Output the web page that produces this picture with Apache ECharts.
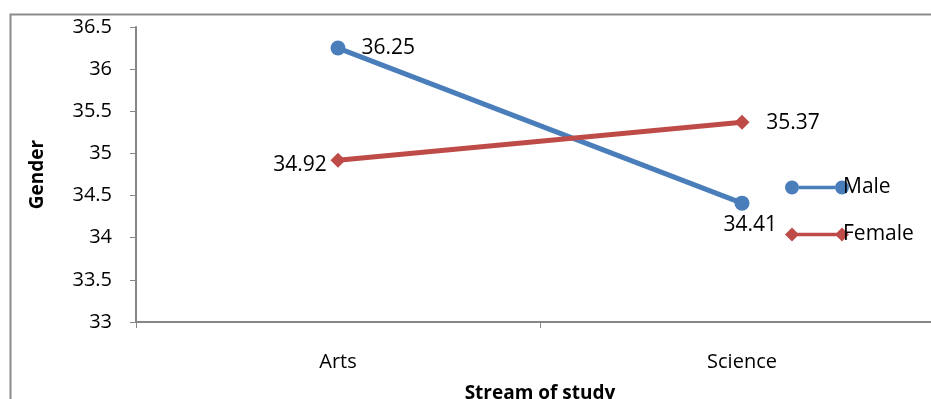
<!DOCTYPE html>
<html>
<head>
<meta charset="utf-8">
<script src="https://cdn.jsdelivr.net/npm/echarts@6/dist/echarts.min.js"></script>
<style>
  html, body { margin: 0; padding: 0; background: #fff; }
  #chart { width: 931px; height: 399px; }
</style>
</head>
<body>
<div id="chart"></div>
<script>
// Mean scores by stream of study, split by gender
var categories = ['Arts', 'Science'];
var maleValues = [36.25, 34.41];
var femaleValues = [34.92, 35.37];
var yTicks = { min: 33, max: 36.5, step: 0.5 };

var FONT = 'Open Sans';
var BLUE = '#4A7EBB';
var RED = '#BE4B48';
var AXIS = '#868686';

// Legend icons: marker - line - marker
var maleIcon = 'path://M0,7A7,7 0 1,1 14,7A7,7 0 1,1 0,7Z M50,7A7,7 0 1,1 64,7A7,7 0 1,1 50,7Z M14,5.2L50,5.2L50,8.8L14,8.8Z';
var femaleIcon = 'path://M0,7L7,0L14,7L7,14Z M50,7L57,0L64,7L57,14Z M12,5.2L52,5.2L52,8.8L12,8.8Z';

var chart = echarts.init(document.getElementById('chart'), null, { renderer: 'canvas' });

chart.setOption({
  animation: false,
  backgroundColor: '#fff',
  textStyle: { fontFamily: FONT },
  graphic: [{
    type: 'rect',
    left: 8, top: 12,
    shape: { width: 1000, height: 500 },
    style: { fill: 'none', stroke: '#8C8C8C', lineWidth: 2 },
    silent: true, z: -1
  }],
  grid: { left: 136, top: 27, width: 808, height: 295, containLabel: false, outerBoundsMode: 'none' },
  legend: {
    orient: 'vertical',
    left: 780, top: 172,
    itemWidth: 64, itemHeight: 14,
    itemGap: 26,
    textStyle: { fontFamily: FONT, fontSize: 21, color: '#000', padding: [0, 0, 0, -11] },
    data: [
      { name: 'Male', icon: maleIcon },
      { name: 'Female', icon: femaleIcon }
    ]
  },
  xAxis: {
    type: 'category',
    data: categories,
    boundaryGap: true,
    name: 'Stream of study',
    nameLocation: 'middle',
    nameGap: 62,
    nameTextStyle: { fontFamily: FONT, fontSize: 19, fontWeight: 'bold', color: '#000' },
    axisLine: { lineStyle: { color: AXIS, width: 2 } },
    axisTick: { show: true, alignWithLabel: false, length: 6, lineStyle: { color: AXIS, width: 1 } },
    axisLabel: { margin: 30, fontFamily: FONT, fontSize: 20, color: '#000' }
  },
  yAxis: {
    type: 'value',
    min: yTicks.min, max: yTicks.max, interval: yTicks.step,
    name: 'Gender',
    nameLocation: 'middle',
    nameGap: 89,
    nameRotate: 90,
    nameTextStyle: { fontFamily: FONT, fontSize: 19, fontWeight: 'bold', color: '#000' },
    axisLine: { show: true, lineStyle: { color: AXIS, width: 2 } },
    axisTick: { show: true, length: 6, lineStyle: { color: AXIS, width: 1 } },
    splitLine: { show: false },
    axisLabel: { margin: 24, fontFamily: FONT, fontSize: 20, color: '#000' }
  },
  series: [{
    name: 'Male',
    type: 'line',
    data: maleValues,
    symbol: 'circle',
    symbolSize: 15,
    itemStyle: { color: BLUE },
    lineStyle: { color: BLUE, width: 5 },
    label: {
      show: true,
      fontFamily: FONT, fontSize: 21, color: '#000',
      position: 'right',
      formatter: function (p) { return p.value.toFixed(2); }
    },
    labelLayout: function (p) {
      if (p.dataIndex === 1) return { dx: -31, dy: 22 };
      return { dx: 11 };
    }
  }, {
    name: 'Female',
    type: 'line',
    data: femaleValues,
    symbol: 'diamond',
    symbolSize: 15,
    itemStyle: { color: RED },
    lineStyle: { color: RED, width: 5 },
    label: {
      show: true,
      fontFamily: FONT, fontSize: 21, color: '#000',
      formatter: function (p) { return p.value.toFixed(2); }
    },
    labelLayout: function (p) {
      if (p.dataIndex === 0) return { dx: -38, dy: 28 };
      return { dx: 51, dy: 24 };
    }
  }]
});
</script>
</body>
</html>
